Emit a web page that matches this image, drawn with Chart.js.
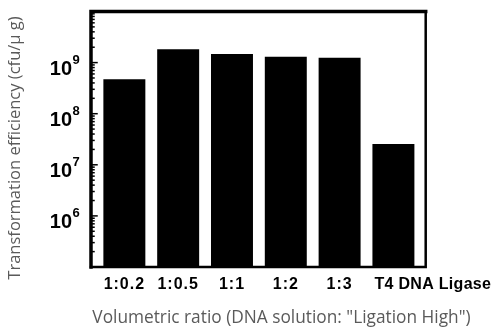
<!DOCTYPE html>
<html>
<head>
<meta charset="utf-8">
<script src="https://cdn.jsdelivr.net/npm/chart.js@4/dist/chart.umd.min.js"></script>
<style>
html,body{margin:0;padding:0;background:#fff;}
#wrap{width:497px;height:329px;position:relative;}
</style>
</head>
<body>
<div id="wrap"><canvas id="c" width="497" height="329"></canvas></div>
<script>
// ---- data ----
const categories = ["1:0.2", "1:0.5", "1:1", "1:2", "1:3", "T4 DNA Ligase"];
const efficiency = [4.7e8, 1.82e9, 1.47e9, 1.30e9, 1.25e9, 2.55e7];
const yTickExponents = [6, 7, 8, 9];
const yTitle = "Transformation efficiency (cfu/\u03bc g)";
const xTitle = "Volumetric ratio (DNA solution: \"Ligation High\")";

const BOLD = '"Liberation Sans", Arial, Helvetica, sans-serif';
const LIGHT = '"Open Sans", Lato, sans-serif';

const framePlugin = {
  id: 'frame',
  afterDraw(chart) {
    const ctx = chart.ctx;
    const a = chart.chartArea;
    const ys = chart.scales.y;
    ctx.save();
    ctx.strokeStyle = '#000';
    ctx.lineCap = 'square';
    ctx.lineWidth = 3.5;
    ctx.beginPath(); ctx.moveTo(a.left, a.bottom); ctx.lineTo(a.left, a.top); ctx.lineTo(a.right, a.top); ctx.stroke();
    ctx.lineWidth = 2.5;
    ctx.beginPath(); ctx.moveTo(a.right, a.top); ctx.lineTo(a.right, a.bottom); ctx.lineTo(a.left, a.bottom); ctx.stroke();
    ctx.lineWidth = 1.5;
    for (let k = 5; k < 10; k++) {
      for (let m = 1; m <= 9; m++) {
        const v = m * Math.pow(10, k);
        const y = ys.getPixelForValue(v);
        const len = (m === 1) ? 6 : 3;
        ctx.beginPath(); ctx.moveTo(a.left, y); ctx.lineTo(a.left + len, y); ctx.stroke();
      }
    }
    ctx.fillStyle = '#000';
    ctx.textBaseline = 'alphabetic';
    yTickExponents.forEach(k => {
      const y = ys.getPixelForValue(Math.pow(10, k));
      ctx.font = 'bold 20px ' + BOLD;
      ctx.textAlign = 'right';
      ctx.fillText('10', 72, y + 12);
      ctx.font = 'bold 13px ' + BOLD;
      ctx.textAlign = 'left';
      ctx.fillText(String(k), 72.5, y + 1);
    });
    const meta = chart.getDatasetMeta(0);
    ctx.font = 'bold 16px ' + BOLD;
    categories.forEach((lab, i) => {
      const bar = meta.data[i];
      if (i < categories.length - 1) {
        ctx.letterSpacing = '1px';
        ctx.textAlign = 'center';
        ctx.fillText(lab, bar.x, 289);
      } else {
        ctx.letterSpacing = '0.3px';
        ctx.textAlign = 'left';
        ctx.fillText(lab, bar.x - bar.width / 2 + 2, 289);
      }
    });
    ctx.letterSpacing = '0px';
    ctx.fillStyle = '#5a5a5a';
    ctx.textAlign = 'center';
    ctx.font = '17.3px ' + LIGHT;
    ctx.fillText(xTitle, 281.5, 323);
    ctx.font = '16.5px ' + LIGHT;
    ctx.save();
    ctx.translate(20, 148);
    ctx.rotate(-Math.PI / 2);
    ctx.fillText(yTitle, 0, 0);
    ctx.restore();
    ctx.restore();
  }
};

new Chart(document.getElementById('c'), {
  type: 'bar',
  data: {
    datasets: [{
      data: categories.map((c, i) => ({ x: i, y: efficiency[i] })),
      backgroundColor: '#000',
      borderWidth: 0,
      barPercentage: 0.78,
      categoryPercentage: 1.0,
      base: 1e5
    }]
  },
  options: {
    responsive: false,
    animation: false,
    layout: { padding: { left: 91, top: 11.5, right: 71.3, bottom: 62 } },
    plugins: { legend: { display: false }, tooltip: { enabled: false } },
    scales: {
      x: { type: 'linear', min: -0.62, max: 5.6, offset: false, display: false,
           ticks: { stepSize: 1, includeBounds: false } },
      y: { type: 'logarithmic', min: 1e5, max: 1e10, display: false }
    }
  },
  plugins: [framePlugin]
});
</script>
</body>
</html>
